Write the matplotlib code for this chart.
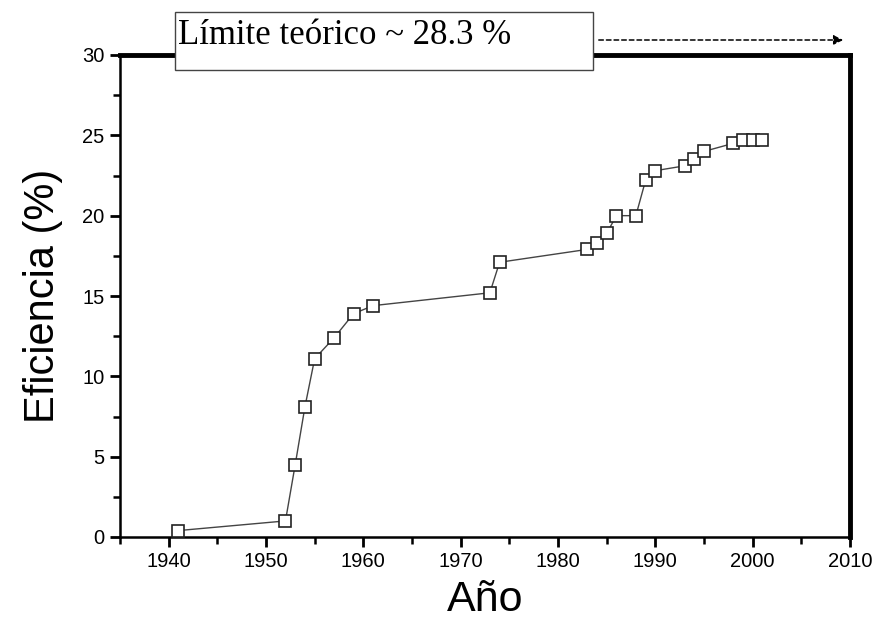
import matplotlib
matplotlib.use("Agg")
import matplotlib.pyplot as plt
from matplotlib.patches import Rectangle, FancyArrowPatch
from matplotlib.ticker import MultipleLocator

# data
years = [1941, 1952, 1953, 1954, 1955, 1957, 1959, 1961, 1973, 1974,
         1983, 1984, 1985, 1986, 1988, 1989, 1990, 1993, 1994, 1995,
         1998, 1999, 2000, 2001]
eff = [0.4, 1.0, 4.5, 8.1, 11.1, 12.4, 13.9, 14.4, 15.2, 17.1,
       17.9, 18.3, 18.9, 20.0, 20.0, 22.2, 22.8, 23.1, 23.5, 24.0,
       24.5, 24.7, 24.7, 24.7]
limit_text = "Límite teórico ~ 28.3 %"

plt.rcParams['font.family'] = ['Liberation Sans', 'DejaVu Sans']

fig = plt.figure(figsize=(8.8, 6.24), dpi=100)
ax = fig.add_axes([120/880, 1-537/624, 730/880, 482/624])

ax.plot(years, eff, color='#444444', lw=1.0, zorder=2)
ax.plot(years, eff, ls='none', marker='s', ms=8.5, mfc='white', mec='#222222',
        mew=1.2, zorder=3)

ax.set_xlim(1935, 2010)
ax.set_ylim(0, 30)
ax.xaxis.set_major_locator(MultipleLocator(10))
ax.xaxis.set_minor_locator(MultipleLocator(5))
ax.yaxis.set_major_locator(MultipleLocator(5))
ax.yaxis.set_minor_locator(MultipleLocator(2.5))
ax.tick_params(which='major', direction='out', length=7, width=2, labelsize=14.5, pad=4)
ax.tick_params(which='minor', direction='out', length=5, width=1.8)

ax.spines['left'].set_linewidth(1.8)
ax.spines['bottom'].set_linewidth(1.8)
ax.spines['top'].set_linewidth(3.5)
ax.spines['right'].set_linewidth(3.5)

ax.set_xlabel("Año", fontsize=31, labelpad=6)
ax.set_ylabel("Eficiencia (%)", fontsize=30, labelpad=14)

# label box over the top frame
box = Rectangle((175/880, 1-70/624), 418/880, 58/624, transform=fig.transFigure,
                facecolor='white', edgecolor='#444444', lw=1.0, zorder=10)
fig.add_artist(box)
fig.text(178/880, 1-35/624, limit_text, family='Liberation Serif', fontsize=25,
         va='center', ha='left', zorder=11)
arrow = FancyArrowPatch((596/880, 1-40/624), (846/880, 1-40/624),
                        transform=fig.transFigure, arrowstyle='-|>',
                        mutation_scale=14, ls=(0, (3, 2)), lw=1.1, color='black')
fig.add_artist(arrow)

fig.savefig("out.png", dpi=100)
